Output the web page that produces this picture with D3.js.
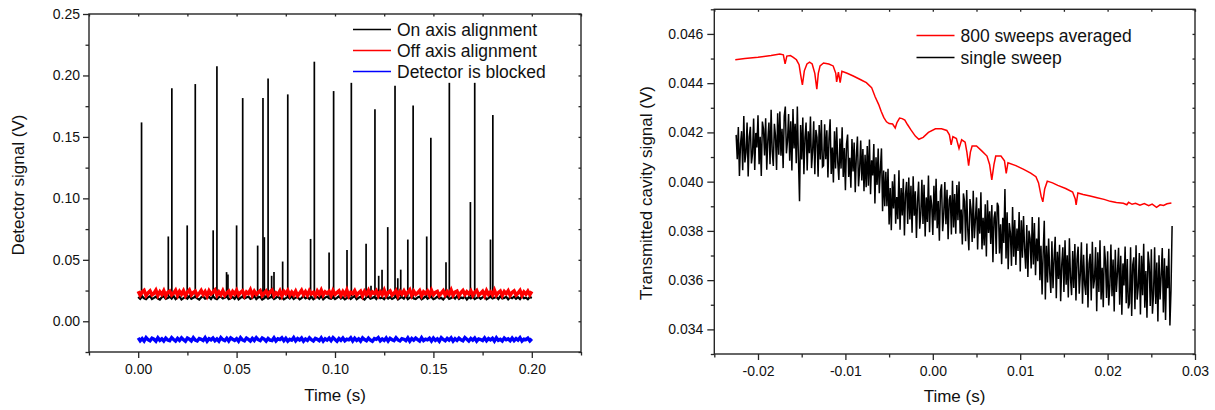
<!DOCTYPE html>
<html>
<head>
<meta charset="utf-8">
<script src="https://cdn.jsdelivr.net/npm/d3@7"></script>
<style>
  html, body { margin: 0; padding: 0; background: #fff; }
  svg { display: block; font-family: "Liberation Sans", Arial, sans-serif; }
</style>
</head>
<body>
<script>
// ---------------- LEFT PANEL DATA ----------------
const leftXTicks = [0, 0.05, 0.10, 0.15, 0.20];
const leftXMinor = [-0.025, 0.025, 0.075, 0.125, 0.175, 0.225];
const leftYTicks = [0, 0.05, 0.10, 0.15, 0.20, 0.25];
const leftYMinor = [-0.025, 0.025, 0.075, 0.125, 0.175, 0.225];
const leftSeriesNames = ["On axis alignment", "Off axis alignment", "Detector is blocked"];

// the noisy traces are sampled evenly from bandStart to bandEnd (s)
const bandStart = 0, bandEnd = 0.2;

// "Off axis alignment" (red) detector signal (V)
const redSignal = [
.0244,.0212,.0238,.0251,.0209,.0231,.0247,.0215,.0226,.0253,.0210,.0240,.0218,.0249,.0207,.0235,.0246,.0213,.0229,.0252,
.0211,.0243,.0220,.0248,.0208,.0237,.0255,.0214,.0233,.0245,.0209,.0226,.0250,.0217,.0241,.0206,.0247,.0222,.0236,.0254,
.0212,.0239,.0216,.0248,.0210,.0230,.0245,.0208,.0242,.0221,.0251,.0213,.0234,.0247,.0207,.0238,.0225,.0256,.0211,.0244,
.0219,.0236,.0249,.0209,.0228,.0246,.0214,.0240,.0253,.0210,.0232,.0218,.0247,.0206,.0243,.0224,.0250,.0212,.0237,.0215,
.0245,.0208,.0229,.0252,.0216,.0241,.0211,.0248,.0223,.0235,.0207,.0246,.0220,.0254,.0213,.0239,.0227,.0244,.0209,.0250,
.0218,.0233,.0247,.0210,.0241,.0215,.0255,.0208,.0236,.0224,.0249,.0212,.0230,.0245,.0206,.0243,.0219,.0251,.0214,.0238,
.0226,.0248,.0209,.0240,.0217,.0253,.0211,.0234,.0246,.0213,.0228,.0250,.0207,.0242,.0221,.0247,.0215,.0236,.0256,.0210,
.0244,.0218,.0231,.0249,.0208,.0239,.0225,.0246,.0212,.0252,.0216,.0235,.0243,.0209,.0229,.0248,.0214,.0241,.0220,.0254,
.0211,.0237,.0245,.0207,.0233,.0250,.0217,.0240,.0223,.0247,.0210,.0236,.0251,.0213,.0227,.0244,.0208,.0249,.0219,.0238,
.0215,.0253,.0212,.0232,.0246,.0209,.0242,.0224,.0248,.0211,.0235,.0247,.0214,.0230,.0251,.0210,.0239,.0221,.0245,.0216,
.0243];

// "On axis alignment" (black) baseline between transmission peaks (V)
const blackBaseline = [
.0198,.0183,.0202,.0187,.0179,.0195,.0204,.0181,.0190,.0200,.0185,.0177,.0196,.0203,.0182,.0189,.0199,.0184,.0206,.0180,
.0193,.0201,.0178,.0188,.0197,.0184,.0205,.0182,.0191,.0199,.0186,.0176,.0194,.0202,.0183,.0190,.0198,.0181,.0204,.0187,
.0179,.0196,.0200,.0185,.0192,.0203,.0180,.0188,.0197,.0183,.0206,.0178,.0191,.0199,.0186,.0194,.0201,.0182,.0189,.0204,
.0181,.0195,.0198,.0177,.0187,.0202,.0184,.0193,.0200,.0180,.0190,.0205,.0183,.0196,.0179,.0188,.0199,.0185,.0203,.0181,
.0192,.0197,.0178,.0189,.0204,.0186,.0195,.0182,.0200,.0180,.0191,.0198,.0184,.0206,.0179,.0193,.0201,.0187,.0183,.0197,
.0181,.0190,.0203,.0185,.0196,.0178,.0188,.0200,.0182,.0194,.0205,.0180,.0191,.0199,.0186,.0177,.0195,.0202,.0184,.0189,
.0198,.0181,.0204,.0187,.0193,.0179,.0200,.0185,.0196,.0182,.0190,.0203,.0178,.0188,.0197,.0184,.0206,.0180,.0192,.0199,
.0186,.0181,.0194,.0201,.0179,.0189,.0204,.0183,.0195,.0198,.0180,.0187,.0202,.0185,.0191,.0177,.0197,.0203,.0182,.0190,
.0199,.0184,.0205,.0181,.0193,.0188,.0200,.0178,.0196,.0186,.0202,.0180,.0190,.0198,.0183,.0194,.0204,.0179,.0188,.0201,
.0185,.0192,.0197,.0181,.0203,.0186,.0190,.0199,.0178,.0195,.0187,.0200,.0183,.0196,.0180,.0204,.0188,.0192,.0179,.0198,
.0190];

// "Detector is blocked" (blue) signal (V)
const blueSignal = [
-.0135,-.0158,-.0141,-.0161,-.0133,-.0150,-.0159,-.0138,-.0146,-.0162,-.0134,-.0155,-.0143,-.0160,-.0137,-.0152,-.0158,-.0133,-.0148,-.0161,
-.0139,-.0156,-.0135,-.0150,-.0162,-.0136,-.0145,-.0159,-.0133,-.0153,-.0160,-.0140,-.0147,-.0157,-.0134,-.0162,-.0142,-.0151,-.0136,-.0158,
-.0144,-.0161,-.0133,-.0149,-.0157,-.0138,-.0160,-.0135,-.0146,-.0155,-.0141,-.0162,-.0134,-.0152,-.0159,-.0137,-.0148,-.0161,-.0139,-.0156,
-.0133,-.0150,-.0158,-.0136,-.0145,-.0162,-.0140,-.0153,-.0157,-.0134,-.0160,-.0143,-.0149,-.0135,-.0158,-.0138,-.0161,-.0146,-.0154,-.0133,
-.0159,-.0141,-.0152,-.0136,-.0162,-.0144,-.0156,-.0134,-.0150,-.0160,-.0139,-.0147,-.0158,-.0135,-.0161,-.0142,-.0153,-.0137,-.0157,-.0133,
-.0148,-.0162,-.0140,-.0155,-.0136,-.0159,-.0145,-.0151,-.0134,-.0160,-.0138,-.0156,-.0143,-.0161,-.0135,-.0149,-.0158,-.0137,-.0153,-.0162,
-.0141,-.0147,-.0133,-.0159,-.0144,-.0156,-.0136,-.0161,-.0139,-.0150,-.0157,-.0134,-.0152,-.0160,-.0142,-.0146,-.0158,-.0135,-.0162,-.0140,
-.0154,-.0137,-.0149,-.0161,-.0133,-.0157,-.0145,-.0151,-.0138,-.0160,-.0136,-.0155,-.0143,-.0162,-.0134,-.0148,-.0159,-.0139,-.0153,-.0135,
-.0161,-.0142,-.0156,-.0137,-.0150,-.0158,-.0133,-.0146,-.0160,-.0140,-.0154,-.0136,-.0162,-.0144,-.0149,-.0157,-.0135,-.0159,-.0141,-.0152,
-.0138,-.0161,-.0134,-.0155,-.0147,-.0160,-.0137,-.0151,-.0143,-.0158,-.0136,-.0157,-.0140,-.0153,-.0134,-.0161,-.0145,-.0150,-.0138,-.0159,
-.0142];

// transmission peaks of the on-axis trace: time (s) and peak value (V)
const peakTime = [
0.0017,0.0153,0.0171,0.0249,0.0290,0.0381,0.0400,0.0449,0.0456,0.0500,
0.0531,0.0607,0.0634,0.0641,0.0660,0.0678,0.0690,0.0734,0.0760,0.0876,
0.0895,0.0970,0.0993,0.1061,0.1083,0.1158,0.1183,0.1203,0.1222,0.1239,
0.1268,0.1305,0.1319,0.1334,0.1370,0.1397,0.1466,0.1487,0.1564,0.1581,
0.1688,0.1710,0.1790,0.1802];
const peakValue = [
0.1618,0.0690,0.1895,0.0780,0.1930,0.0740,0.2074,0.0400,0.0380,0.0780,
0.1816,0.0616,0.1816,0.0684,0.1976,0.0370,0.0400,0.0486,0.1846,0.0670,
0.2112,0.0560,0.1873,0.0580,0.1940,0.0630,0.0290,0.1726,0.0370,0.0420,
0.0766,0.1916,0.0350,0.0420,0.0665,0.1756,0.0690,0.1493,0.0480,0.1940,
0.0970,0.1940,0.0665,0.1678];
const peakBase = 0.020;

// ---------------- RIGHT PANEL DATA ----------------
const rightXTicks = [-0.02, -0.01, 0.00, 0.01, 0.02, 0.03];
const rightXMinor = [-0.025, -0.015, -0.005, 0.005, 0.015, 0.025];
const rightYTicks = [0.034, 0.036, 0.038, 0.040, 0.042, 0.044, 0.046];
const rightYMinor = [0.033, 0.035, 0.037, 0.039, 0.041, 0.043, 0.045, 0.047];
const rightSeriesNames = ["800 sweeps averaged", "single sweep"];

// 800 sweeps averaged (red): time (s), signal (V)
const avgTime = [
-0.0226,-0.0215,-0.0200,-0.0185,-0.0175,-0.0171,-0.0169,-0.0167,-0.0163,-0.0160,
-0.0156,-0.0153,-0.0151,-0.01492,-0.0147,-0.0144,-0.0141,-0.0138,-0.0135,-0.01327,
-0.0131,-0.0129,-0.0125,-0.0119,-0.0114,-0.0111,-0.0110,-0.0108,-0.0106,-0.0104,
-0.0098,-0.0091,-0.0083,-0.0076,-0.0070,-0.0066,-0.0062,-0.0059,-0.0056,-0.0053,
-0.0050,-0.0046,-0.0043,-0.0041,-0.0038,-0.0035,-0.0032,-0.0029,-0.0025,-0.0020,
-0.0016,-0.0011,-0.0005,0.0003,0.0010,0.0016,0.0019,0.0021,0.0023,0.0027,
0.0030,0.0033,0.0037,0.0039,0.0041,0.0043,0.0045,0.0050,0.0056,0.0062,
0.0065,0.00675,0.0070,0.0072,0.0078,0.0082,0.0084,0.0086,0.0095,0.0104,
0.0112,0.0118,0.0121,0.0124,0.01259,0.0128,0.0131,0.0137,0.0143,0.0152,
0.0160,0.0163,0.0164,0.0166,0.0172,0.0180,0.0188,0.0196,0.0203,0.0210,
0.0218,0.0222,0.0224,0.0228,0.0232,0.0237,0.0242,0.0247,0.0251,0.0256,
0.0260,0.0264,0.0268,0.0273];
const avgSignal = [
0.04495,0.04500,0.04505,0.04512,0.04518,0.04515,0.04478,0.04510,0.04512,0.04506,
0.04495,0.04475,0.04430,0.04393,0.04450,0.04478,0.04485,0.04478,0.04440,0.04376,
0.04440,0.04470,0.04482,0.04478,0.04470,0.04440,0.04405,0.04445,0.04402,0.04448,
0.04440,0.04429,0.04415,0.04402,0.04382,0.04345,0.04314,0.04285,0.04260,0.04243,
0.04236,0.04234,0.04218,0.04240,0.04258,0.04256,0.04250,0.04232,0.04210,0.04185,
0.04172,0.04180,0.04200,0.04215,0.04215,0.04208,0.04190,0.04149,0.04183,0.04175,
0.04135,0.04170,0.04160,0.04120,0.04065,0.04120,0.04145,0.04145,0.04125,0.04104,
0.04070,0.04007,0.04070,0.04104,0.04104,0.04085,0.04034,0.04077,0.04065,0.04050,
0.04035,0.04020,0.03995,0.03940,0.03918,0.03970,0.04002,0.03995,0.03985,0.03972,
0.03958,0.03930,0.03906,0.03954,0.03948,0.03942,0.03935,0.03928,0.03920,0.03915,
0.03912,0.03906,0.03916,0.03908,0.03912,0.03904,0.03911,0.03902,0.03909,0.03896,
0.03906,0.03903,0.03910,0.03913];

// single sweep (black): sampled evenly from sweepStart to sweepEnd (s), signal (V)
const sweepStart = -0.0225, sweepEnd = 0.02738;
const sweepSignal = [
.04190,.04091,.04222,.04023,.04154,.04205,.04046,.04267,.04078,.04119,.04240,.04021,.04182,.04223,.04074,.04115,.04256,.04047,.04198,.04139,
.04270,.04071,.04182,.04023,.04244,.04215,.04106,.04257,.04048,.04169,.04240,.04071,.04292,.04123,.04064,.04235,.04186,.04047,.04278,.04109,
.04285,.04105,.04215,.04055,.04265,.04305,.04115,.04165,.04275,.04085,.04245,.04045,.04295,.04135,.04235,.04075,.04305,.04095,.03920,.04230,
.04090,.04260,.04030,.04180,.04240,.04045,.04205,.04115,.04265,.04055,.04125,.04245,.04030,.04210,.04180,.04020,.04230,.04090,.04250,.04060,
.04065,.04233,.04091,.04209,.04017,.04175,.04253,.04031,.04139,.03997,.04205,.04053,.04221,.04079,.04007,.04175,.04053,.04221,.04019,.04137,
.03965,.04153,.04191,.04019,.04097,.03975,.04173,.04041,.04159,.03957,.04105,.04183,.03981,.04049,.04167,.04005,.04133,.03961,.04109,.03977,
.04145,.03983,.04171,.03949,.04087,.04025,.04153,.03911,.04099,.03987,.04135,.03953,.04050,.04135,.03880,.04045,.03900,.04040,.03900,.04052,
.03826,.03974,.03803,.04002,.03891,.04030,.03829,.03938,.03847,.04046,.03805,.03974,.03863,.04012,.03781,.03950,.03999,.03828,.04017,.03846,
.03983,.03793,.04022,.03862,.03961,.03771,.03920,.04000,.03809,.03869,.04008,.03828,.03987,.03777,.03936,.03836,.04025,.03795,.03944,.03904,
.03783,.03983,.03842,.04012,.03811,.03921,.03760,.03960,.03989,.03799,.03868,.03998,.03827,.03967,.03766,.03926,.03945,.03785,.04004,.03814,
.03950,.03788,.03986,.03843,.04001,.03789,.03887,.03745,.03952,.03920,.03758,.03966,.03804,.03721,.03929,.03887,.03755,.03963,.03770,.03848,
.03936,.03724,.03892,.03789,.03957,.03725,.03853,.03741,.03908,.03696,.03924,.03792,.03880,.03747,.03905,.03673,.03851,.03879,.03706,.03914,
.03900,.03708,.03827,.03665,.03853,.03751,.03970,.03688,.03876,.03644,.03832,.03791,.03658,.03897,.03695,.03844,.03662,.03810,.03718,.03877,
.03635,.03843,.03691,.03860,.03728,.03646,.03824,.03613,.03801,.03769,.03647,.03856,.03664,.03832,.03620,.03769,.03677,.03855,.03600,.03740,
.03542,.03712,.03841,.03521,.03740,.03590,.03769,.03629,.03548,.03758,.03567,.03687,.03776,.03526,.03715,.03605,.03744,.03514,.03663,.03733,
.03552,.03762,.03581,.03701,.03530,.03770,.03609,.03539,.03718,.03568,.03747,.03517,.03686,.03736,.03545,.03625,.03754,.03504,.03703,.03583,
.03540,.03749,.03489,.03668,.03707,.03517,.03756,.03566,.03605,.03734,.03474,.03713,.03552,.03762,.03521,.03650,.03490,.03739,.03678,.03528,
.03717,.03497,.03576,.03745,.03535,.03684,.03473,.03723,.03552,.03631,.03731,.03500,.03699,.03459,.03668,.03578,.03737,.03506,.03686,.03485,
.03505,.03734,.03454,.03663,.03693,.03482,.03742,.03521,.03571,.03710,.03460,.03699,.03539,.03748,.03488,.03637,.03447,.03716,.03666,.03495,
.03725,.03464,.03544,.03733,.03503,.03672,.03432,.03701,.03521,.03620,.03730,.03469,.03689,.03438,.03658,.03567,.03727,.03416,.03560,.03820];

// ---------------- DRAWING ----------------
const W = 1215, H = 410;
const svg = d3.select("body").append("svg").attr("width", W).attr("height", H);
const loc = d3.formatLocale({decimal: ".", thousands: ",", grouping: [3], currency: ["", ""], minus: "-"});
const AXC = "#262626";

function drawFrame(g, x, y, o) {
  const [x0, x1] = x.range(), [y1, y0] = y.range();
  g.append("g").attr("transform", `translate(0,${y1})`)
    .call(d3.axisBottom(x).tickValues(o.xMinor).tickSize(3.5).tickSizeOuter(0).tickFormat(""));
  g.append("g").attr("transform", `translate(0,${y1})`)
    .call(d3.axisBottom(x).tickValues(o.xTicks).tickSize(6).tickSizeOuter(0).tickPadding(6).tickFormat(loc.format(o.xFmt)));
  g.append("g").attr("transform", `translate(0,${y0})`)
    .call(d3.axisBottom(x).tickValues(o.xTicks.concat(o.xMinor)).tickSize(2.5).tickSizeOuter(0).tickFormat(""));
  g.append("g").attr("transform", `translate(${x0},0)`)
    .call(d3.axisLeft(y).tickValues(o.yMinor).tickSize(3.5).tickSizeOuter(0).tickFormat(""));
  g.append("g").attr("transform", `translate(${x0},0)`)
    .call(d3.axisLeft(y).tickValues(o.yTicks).tickSize(o.yTickLen).tickSizeOuter(0).tickPadding(o.yPad).tickFormat(loc.format(o.yFmt)));
  g.append("g").attr("transform", `translate(${x1},0)`)
    .call(d3.axisLeft(y).tickValues(o.yTicks.concat(o.yMinor)).tickSize(2.5).tickSizeOuter(0).tickFormat(""));
  g.selectAll(".domain").remove();
  g.selectAll(".tick line").attr("stroke", AXC).attr("stroke-width", 1.3);
  g.selectAll(".tick text").attr("fill", "#111").style("font-size", "14px")
    .style("font-family", '"Liberation Sans", Arial, sans-serif');
  g.append("rect").attr("x", x0).attr("y", y0).attr("width", x1 - x0).attr("height", y1 - y0)
    .attr("fill", "none").attr("stroke", AXC).attr("stroke-width", 1.4);
}

function legend(g, x0, y0, dy, names, colors) {
  names.forEach((n, i) => {
    const yy = Math.round(y0 + i * dy) + 0.5;
    g.append("line").attr("x1", x0).attr("x2", x0 + 38).attr("y1", yy).attr("y2", yy)
      .attr("stroke", colors[i]).attr("stroke-width", 1.3);
    g.append("text").attr("x", x0 + 44).attr("y", yy).attr("dy", "0.35em")
      .style("font-size", "17.5px").attr("fill", "#111").text(n);
  });
}

// ----- left panel -----
{
  const g = svg.append("g");
  const x = d3.scaleLinear().domain([-0.025, 0.225]).range([89, 581]);
  const y = d3.scaleLinear().domain([-0.025, 0.25]).range([352, 14]);
  const tb = (n) => (i) => bandStart + i * (bandEnd - bandStart) / (n - 1);
  const plot = g.append("g");
  const tBlack = tb(blackBaseline.length), tRed = tb(redSignal.length), tBlue = tb(blueSignal.length);
  plot.append("path").datum(blackBaseline)
    .attr("d", d3.line().x((d, i) => x(tBlack(i))).y(d => y(d)))
    .attr("fill", "none").attr("stroke", "#000").attr("stroke-width", 2.2);
  plot.selectAll("line.peak").data(peakTime).join("line").attr("class", "peak")
    .attr("x1", d => x(d)).attr("x2", d => x(d))
    .attr("y1", y(peakBase)).attr("y2", (d, i) => y(peakValue[i]))
    .attr("stroke", "#000").attr("stroke-width", 1.7);
  plot.append("path").datum(redSignal)
    .attr("d", d3.line().x((d, i) => x(tRed(i))).y(d => y(d)))
    .attr("fill", "none").attr("stroke", "#ff0000").attr("stroke-width", 3.5);
  plot.append("path").datum(blueSignal)
    .attr("d", d3.line().x((d, i) => x(tBlue(i))).y(d => y(d)))
    .attr("fill", "none").attr("stroke", "#0000ff").attr("stroke-width", 3.4);

  drawFrame(g, x, y, {xTicks: leftXTicks, xMinor: leftXMinor, yTicks: leftYTicks, yMinor: leftYMinor,
    xFmt: ".2f", yFmt: ".2f", yTickLen: 6, yPad: 3});
  legend(g, 353, 29, 21, leftSeriesNames, ["#000", "#ff0000", "#0000ff"]);
  g.append("text").attr("x", 335).attr("y", 395).attr("dy", "0.35em").attr("text-anchor", "middle")
    .style("font-size", "17px").attr("fill", "#111").text("Time (s)");
  g.append("text").attr("transform", "translate(18,185) rotate(-90)").attr("dy", "0.35em")
    .attr("text-anchor", "middle").style("font-size", "17px").attr("fill", "#111").text("Detector signal (V)");
}

// ----- right panel -----
{
  const g = svg.append("g");
  const x = d3.scaleLinear().domain([-0.025, 0.03]).range([714.3, 1195]);
  const y = d3.scaleLinear().domain([0.033, 0.047]).range([354, 9.3]);
  const n = sweepSignal.length;
  const plot = g.append("g");
  plot.append("path").datum(sweepSignal)
    .attr("d", d3.line().x((d, i) => x(sweepStart + i * (sweepEnd - sweepStart) / (n - 1))).y(d => y(d)))
    .attr("fill", "none").attr("stroke", "#000").attr("stroke-width", 1.5);
  plot.append("path").datum(avgSignal)
    .attr("d", d3.line().x((d, i) => x(avgTime[i])).y(d => y(d)))
    .attr("fill", "none").attr("stroke", "#ff0000").attr("stroke-width", 1.5);

  drawFrame(g, x, y, {xTicks: rightXTicks, xMinor: rightXMinor, yTicks: rightYTicks, yMinor: rightYMinor,
    xFmt: ".2f", yFmt: ".3f", yTickLen: 7, yPad: 4});
  legend(g, 916.5, 35, 21.5, rightSeriesNames, ["#ff0000", "#000"]);
  g.append("text").attr("x", 954.5).attr("y", 396).attr("dy", "0.35em").attr("text-anchor", "middle")
    .style("font-size", "17px").attr("fill", "#111").text("Time (s)");
  g.append("text").attr("transform", "translate(646,193) rotate(-90)").attr("dy", "0.35em")
    .attr("text-anchor", "middle").style("font-size", "17px").attr("fill", "#111").text("Transmitted cavity signal (V)");
}
</script>
</body>
</html>
